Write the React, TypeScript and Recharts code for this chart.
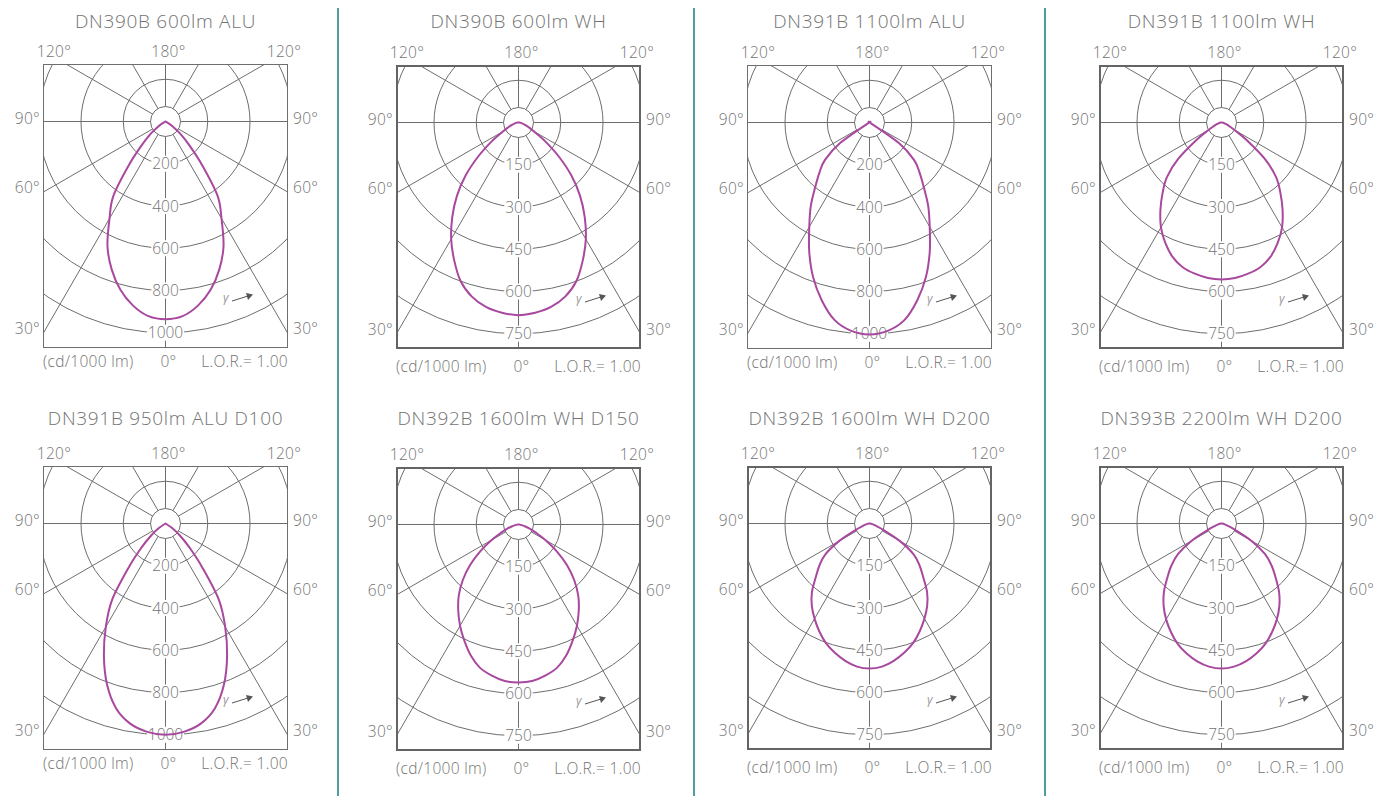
import React from 'react'
import { RadarChart, Radar, PolarGrid, PolarAngleAxis, PolarRadiusAxis } from 'recharts'

// polar intensity in cd/1000 lm, read at 0..90 deg (symmetric, 0 beyond 90)
const ANGLES = [0, 5, 10, 15, 20, 25, 30, 35, 40, 45, 50, 55, 60, 65, 70, 75, 80, 85, 90]

const DN390B_600_ALU = [936, 925, 885, 825, 745, 650, 530, 430, 270, 160, 95, 45, 10, 0, 0, 0, 0, 0, 0]
const DN390B_600_WH = [684, 678, 665, 640, 600, 540, 478, 410, 340, 265, 185, 115, 65, 40, 25, 15, 8, 3, 0]
const DN391B_1100_ALU = [1003, 990, 950, 872, 780, 675, 570, 485, 400, 335, 275, 170, 10, 0, 0, 0, 0, 0, 0]
const DN391B_1100_WH = [557, 554, 545, 532, 508, 472, 430, 378, 325, 274, 200, 110, 55, 30, 18, 11, 6, 2, 0]
const DN391B_950_ALU_D100 = [1000, 990, 962, 905, 810, 690, 565, 440, 270, 160, 90, 40, 0, 0, 0, 0, 0, 0, 0]
const DN392B_1600_WH_D150 = [561, 558, 545, 527, 495, 455, 415, 373, 330, 280, 225, 165, 110, 68, 42, 22, 10, 4, 0]
const DN392B_1600_WH_D200 = [515, 510, 495, 475, 452, 422, 390, 357, 318, 270, 232, 192, 125, 55, 25, 13, 6, 2, 0]
const DN393B_2200_WH_D200 = [515, 510, 497, 478, 455, 425, 393, 358, 318, 272, 232, 188, 122, 52, 24, 12, 6, 2, 0]

const ALU_TICKS = [200, 400, 600, 800, 1000]
const WH_TICKS = [150, 300, 450, 600, 750]
const GRID_ANGLES = [0, 30, 60, 90, 120, 150, 180, 210, 240, 270, 300, 330]

const TITLES = [
  'DN390B 600lm ALU',
  'DN390B 600lm WH',
  'DN391B 1100lm ALU',
  'DN391B 1100lm WH',
  'DN391B 950lm ALU D100',
  'DN392B 1600lm WH D150',
  'DN392B 1600lm WH D200',
  'DN393B 2200lm WH D200',
]
const SERIES = [
  DN390B_600_ALU, DN390B_600_WH, DN391B_1100_ALU, DN391B_1100_WH,
  DN391B_950_ALU_D100, DN392B_1600_WH_D150, DN392B_1600_WH_D200, DN393B_2200_WH_D200,
]
const TICK_SETS = [ALU_TICKS, WH_TICKS, ALU_TICKS, WH_TICKS, ALU_TICKS, WH_TICKS, WH_TICKS, WH_TICKS]

// layout (box top-left corners)
const BOXES = [
  { left: 43, top: 64, titleY: 21 },
  { left: 396, top: 65, titleY: 21 },
  { left: 747, top: 65, titleY: 21 },
  { left: 1099, top: 65, titleY: 21 },
  { left: 43, top: 466, titleY: 418 },
  { left: 396, top: 467, titleY: 418 },
  { left: 747, top: 466, titleY: 418 },
  { left: 1099, top: 466, titleY: 418 },
]
const SEPARATORS = [337, 693, 1044]

const W = 245
const H = 284
const CX = 122.5
const CY = 57.5
const OUTER = 253.5
const HUB = 15
const FONT = "'Open Sans', Lato, sans-serif"
const TEXT = '#737373'
const GRID = '#6e6e6e'
const CURVE = '#a8489e'

function buildTable(values: number[]) {
  const rows: { angle: number; cd: number }[] = []
  for (let a = 0; a < 360; a += 5) {
    const t = a <= 180 ? a : 360 - a
    const i = ANGLES.indexOf(t)
    rows.push({ angle: a, cd: i >= 0 ? values[i] : 0 })
  }
  return rows
}

// closed catmull-rom through the radar points, sharp at the centre
function SmoothOutline(props: any) {
  const pts: any[] = props.points || []
  const p: { x: number; y: number; zero: boolean }[] = []
  for (const q of pts) {
    const last = p[p.length - 1]
    if (last && Math.abs(last.x - q.x) < 0.01 && Math.abs(last.y - q.y) < 0.01) continue
    const ox = q.cx ?? CX
    const oy = q.cy ?? CY
    p.push({ x: q.x, y: q.y, zero: Math.hypot(q.x - ox, q.y - oy) < 0.5 })
  }
  if (p.length > 1) {
    const a = p[0]
    const b = p[p.length - 1]
    if (Math.abs(a.x - b.x) < 0.01 && Math.abs(a.y - b.y) < 0.01) p.pop()
  }
  const n = p.length
  if (n < 3) return null
  let d = `M${p[0].x},${p[0].y}`
  for (let i = 0; i < n; i++) {
    const p0 = p[(i - 1 + n) % n]
    const p1 = p[i]
    const p2 = p[(i + 1) % n]
    const p3 = p[(i + 2) % n]
    const t1x = p1.zero ? 0 : (p2.x - p0.x) / 6
    const t1y = p1.zero ? 0 : (p2.y - p0.y) / 6
    const t2x = p2.zero ? 0 : (p3.x - p1.x) / 6
    const t2y = p2.zero ? 0 : (p3.y - p1.y) / 6
    d += ` C${p1.x + t1x},${p1.y + t1y} ${p2.x - t2x},${p2.y - t2y} ${p2.x},${p2.y}`
  }
  d += ' Z'
  return <path d={d} fill="none" stroke={CURVE} strokeWidth={2} strokeLinejoin="round" />
}

function RingLabel(props: any) {
  const { x, y, payload } = props
  const s = String(payload.value)
  const w = s.length * 8.8 + 2
  return (
    <g>
      <rect x={x - w / 2} y={y - 8} width={w} height={16} fill="#fff" />
      <text x={x} y={y} dy="0.36em" textAnchor="middle" fontSize={15.5} fontWeight={300} fill={TEXT} fontFamily={FONT}>
        {s}
      </text>
    </g>
  )
}

function Label({ x, y, align = 'center', size = 15.5, spacing = 0.3, children }: { x: number; y: number; align?: string; size?: number; spacing?: number; children: React.ReactNode }) {
  const tx = align === 'left' ? '0' : align === 'right' ? '-100%' : '-50%'
  return (
    <div
      style={{
        position: 'absolute',
        left: x,
        top: y,
        transform: `translate(${tx}, -50%)`,
        whiteSpace: 'nowrap',
        fontFamily: FONT,
        fontWeight: 300,
        fontSize: size,
        letterSpacing: spacing,
        color: TEXT,
        lineHeight: 1,
      }}
    >
      {children}
    </div>
  )
}

function Panel({ index }: { index: number }) {
  const { left, top, titleY } = BOXES[index]
  const ticks = TICK_SETS[index]
  const wh = ticks === WH_TICKS
  const max = ticks[ticks.length - 1] * 1.2
  const rings = ticks.map((t) => (t / max) * OUTER)
  const data = buildTable(SERIES[index])
  const bottomY = top + H + (wh ? 18 : 14)

  return (
    <>
      <Label x={left + CX} y={titleY} size={19} spacing={0.7}>{TITLES[index]}</Label>

      <Label x={left + 11} y={top - 12}>120°</Label>
      <Label x={left + CX + 3} y={top - 12}>180°</Label>
      <Label x={left + W - 4} y={top - 12}>120°</Label>

      <Label x={left - 3} y={top + 55} align="right">90°</Label>
      <Label x={left - 3} y={top + 124} align="right">60°</Label>
      <Label x={left - 3} y={top + 265} align="right">30°</Label>
      <Label x={left + W + 5} y={top + 55} align="left">90°</Label>
      <Label x={left + W + 5} y={top + 124} align="left">60°</Label>
      <Label x={left + W + 5} y={top + 265} align="left">30°</Label>

      <Label x={left} y={bottomY} align="left">(cd/1000 lm)</Label>
      <Label x={left + CX + 3} y={bottomY}>0°</Label>
      <Label x={left + W} y={bottomY} align="right">L.O.R.= 1.00</Label>

      <div style={{ position: 'absolute', left, top, width: W, height: H, overflow: 'hidden' }}>
        <RadarChart
          width={W}
          height={H}
          data={data}
          cx={CX}
          cy={CY}
          outerRadius={OUTER}
          startAngle={-90}
          endAngle={-450}
          margin={{ top: 0, right: 0, bottom: 0, left: 0 }}
        >
          <PolarGrid
            gridType="circle"
            polarAngles={GRID_ANGLES}
            polarRadius={rings}
            stroke={GRID}
            strokeWidth={1}
          />
          <circle cx={CX} cy={CY} r={HUB} fill="#fff" stroke={GRID} strokeWidth={1} />
          <PolarAngleAxis dataKey="angle" tick={false} tickLine={false} axisLine={false} />
          <PolarRadiusAxis
            angle={-90}
            type="number"
            domain={[0, max]}
            ticks={ticks}
            axisLine={false}
            tick={<RingLabel />}
            zIndex={50}
          />
          <Radar
            dataKey="cd"
            stroke={CURVE}
            strokeWidth={2}
            fill="none"
            fillOpacity={0}
            dot={false}
            shape={<SmoothOutline />}
            isAnimationActive={false}
            zIndex={3000}
          />
        </RadarChart>
        <div
          style={{
            position: 'absolute',
            inset: 0,
            boxSizing: 'border-box',
            border: wh ? '2px solid #646464' : '1.5px solid #6e6e6e',
            pointerEvents: 'none',
          }}
        />
      </div>

      <div style={{ position: 'absolute', left: left + 180, top: top + 225, display: 'flex', alignItems: 'center' }}>
        <span style={{ fontFamily: FONT, fontStyle: 'italic', fontSize: 12, color: '#999' }}>γ</span>
        <svg width={24} height={12} style={{ marginLeft: 2 }}>
          <line x1={1} y1={9} x2={17} y2={4} stroke="#555" strokeWidth={1} />
          <polygon points="22,2.5 15,1 17,8" fill="#555" />
        </svg>
      </div>
    </>
  )
}

export default function App() {
  return (
    <div style={{ position: 'absolute', left: 0, top: 0, width: 1377, height: 796, background: '#fff', overflow: 'hidden' }}>
      {SEPARATORS.map((x) => (
        <div key={x} style={{ position: 'absolute', left: x, top: 8, width: 2, height: 788, background: '#4f9ca1' }} />
      ))}
      {TITLES.map((_, i) => (
        <Panel key={i} index={i} />
      ))}
    </div>
  )
}
